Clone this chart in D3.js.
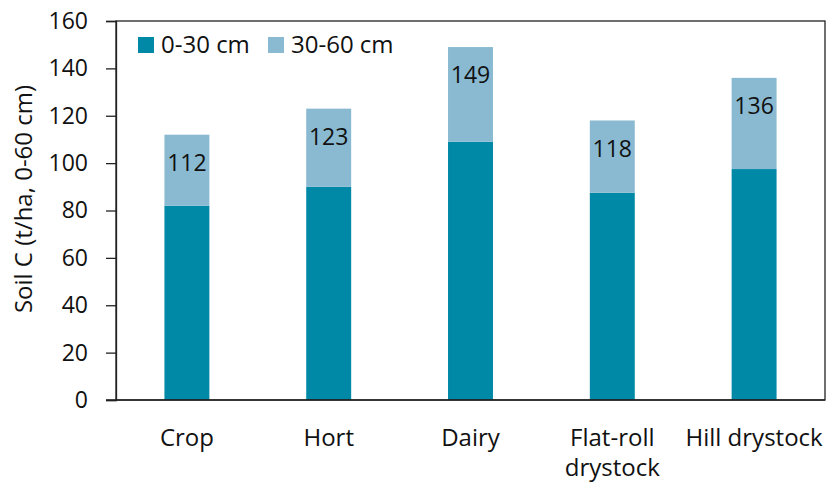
<!DOCTYPE html>
<html>
<head>
<meta charset="utf-8">
<script src="https://cdn.jsdelivr.net/npm/d3@7"></script>
<style>
  body { margin: 0; background: #fff; }
  text { font-family: "Open Sans", "Noto Sans", sans-serif; fill: #111; }
</style>
</head>
<body>
<div id="chart"></div>
<script>
var categories = ["Crop", "Hort", "Dairy", "Flat-roll drystock", "Hill drystock"];
var topsoil = [82, 90, 109, 87.5, 97.5];      // 0-30 cm
var totals = [112, 123, 149, 118, 136];       // 0-60 cm
var seriesNames = ["0-30 cm", "30-60 cm"];
var yTicks = [0, 20, 40, 60, 80, 100, 120, 140, 160];

var width = 827, height = 486;
var margin = { left: 116, right: 2, top: 21, bottom: 86 };
var colors = ["#0089a7", "#89bad1"];

var svg = d3.select("#chart").append("svg")
    .attr("width", width)
    .attr("height", height);

var x = d3.scaleBand()
    .domain(categories)
    .range([margin.left, width - margin.right])
    .paddingInner(0.683)
    .paddingOuter(0.3415);

var y = d3.scaleLinear()
    .domain([0, 160])
    .range([height - margin.bottom, margin.top]);

var rows = categories.map(function (c, i) {
    return { cat: c, lower: topsoil[i], upper: totals[i] - topsoil[i], total: totals[i] };
});

var stack = d3.stack().keys(["lower", "upper"]);
var layers = stack(rows);

svg.selectAll("g.layer")
    .data(layers)
    .enter().append("g")
    .attr("class", "layer")
    .attr("fill", function (d, i) { return colors[i]; })
    .selectAll("rect")
    .data(function (d) { return d; })
    .enter().append("rect")
    .attr("x", function (d) { return x(d.data.cat); })
    .attr("width", x.bandwidth())
    .attr("y", function (d) { return y(d[1]); })
    .attr("height", function (d) { return y(d[0]) - y(d[1]); });

// total labels
svg.selectAll("text.total")
    .data(rows)
    .enter().append("text")
    .attr("class", "total")
    .attr("x", function (d) { return x(d.cat) + x.bandwidth() / 2; })
    .attr("y", function (d) { return y(d.total) + 28; })
    .attr("dy", "0.35em")
    .attr("text-anchor", "middle")
    .attr("font-size", "23px")
    .text(function (d) { return d.total; });

// frame
svg.append("rect")
    .attr("x", margin.left)
    .attr("y", margin.top)
    .attr("width", width - margin.right - margin.left)
    .attr("height", height - margin.bottom - margin.top)
    .attr("fill", "none")
    .attr("stroke", "#222")
    .attr("stroke-width", 1.3);

var yAxis = svg.append("g")
    .attr("transform", "translate(" + margin.left + ",0)")
    .call(d3.axisLeft(y).tickValues(yTicks).tickSize(10).tickPadding(18));
yAxis.select(".domain").attr("stroke", "#222").attr("stroke-width", 1.3);
yAxis.selectAll(".tick line").attr("stroke", "#222").attr("stroke-width", 1.3);
yAxis.selectAll(".tick text").attr("font-size", "23px").attr("font-family", null).attr("fill", "#111");

// bottom line extends left
svg.append("line")
    .attr("x1", margin.left - 10)
    .attr("x2", width - margin.right)
    .attr("y1", y(0))
    .attr("y2", y(0))
    .attr("stroke", "#222")
    .attr("stroke-width", 1.3);

// category labels, "Flat-roll drystock" wraps to two lines
categories.forEach(function (d) {
    var parts = d === "Flat-roll drystock" ? ["Flat-roll", "drystock"] : [d];
    parts.forEach(function (p, i) {
        svg.append("text")
            .attr("class", "cat")
            .attr("text-anchor", "middle")
            .attr("font-size", "24px")
            .attr("x", x(d) + x.bandwidth() / 2)
            .attr("y", 446 + i * 30)
            .text(p);
    });
});

// y title
svg.append("text")
    .attr("transform", "translate(24,199) rotate(-90)")
    .attr("text-anchor", "middle")
    .attr("dy", "0.35em")
    .attr("font-size", "24px")
    .text("Soil C (t/ha, 0-60 cm)");

// legend
var legend = svg.append("g").attr("transform", "translate(138,37)");
var lx = [0, 130];
seriesNames.forEach(function (name, i) {
    legend.append("rect")
        .attr("x", lx[i])
        .attr("y", 0)
        .attr("width", 16)
        .attr("height", 16)
        .attr("fill", colors[i]);
    legend.append("text")
        .attr("x", lx[i] + 23)
        .attr("y", 8)
        .attr("dy", "0.35em")
        .attr("font-size", "24px")
        .text(name);
});
</script>
</body>
</html>
